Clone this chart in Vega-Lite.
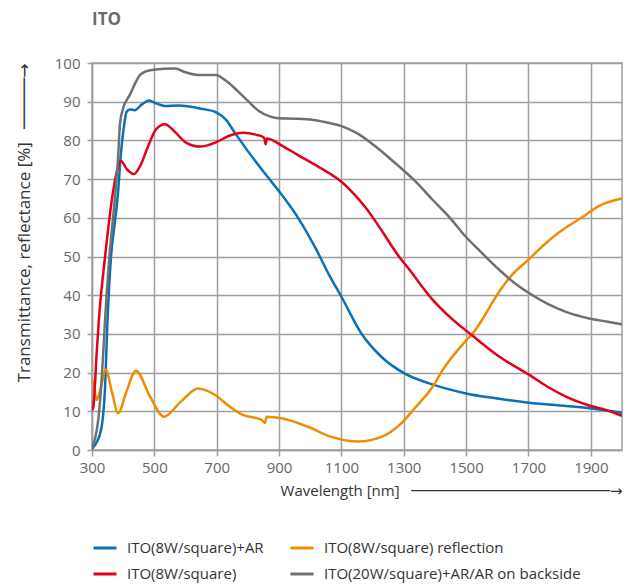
{
  "$schema": "https://vega.github.io/schema/vega-lite/v6.json",
  "autosize": {"type": "none"},
  "width": 530,
  "height": 387,
  "padding": {"left": 92, "top": 63, "right": 7, "bottom": 135},
  "background": "white",
  "title": {"text": "ITO", "anchor": "start", "frame": "group", "fontSize": 17, "fontWeight": "bold", "color": "#6b6b6b", "font": "Open Sans", "offset": 27},
  "config": {
    "font": "Open Sans, DejaVu Sans",
    "view": {"stroke": "#9f9f9f", "strokeWidth": 1.5},
    "axis": {"gridColor": "#9f9f9f", "gridWidth": 1.5, "gridOpacity": 1, "domainColor": "#9f9f9f", "domainWidth": 1.5, "tickColor": "#9f9f9f", "tickWidth": 1.5, "labelFontSize": 15, "labelColor": "#666666", "labelFont": "Open Sans", "labelFlush": false, "titleFontSize": 15, "titleFontWeight": "normal", "titleColor": "#333333", "titleFont": "Open Sans, DejaVu Sans"},
    "legend": {"labelFontSize": 15, "labelColor": "#333333", "labelFont": "Open Sans", "labelLimit": 0, "symbolType": "stroke", "symbolSize": 529, "symbolStrokeWidth": 3, "labelOffset": 9, "columnPadding": 20, "rowPadding": 5}
  },
  "data": {"values": [
    {"s":"ITO(8W/square)+AR","wl":300,"v":0.3},{"s":"ITO(8W/square)+AR","wl":315,"v":2},{"s":"ITO(8W/square)+AR","wl":331,"v":6},{"s":"ITO(8W/square)+AR","wl":342,"v":16.4},{"s":"ITO(8W/square)+AR","wl":349,"v":32},{"s":"ITO(8W/square)+AR","wl":361,"v":50},{"s":"ITO(8W/square)+AR","wl":372,"v":58},{"s":"ITO(8W/square)+AR","wl":384,"v":67},{"s":"ITO(8W/square)+AR","wl":392,"v":76},{"s":"ITO(8W/square)+AR","wl":400,"v":82},{"s":"ITO(8W/square)+AR","wl":411,"v":87.4},{"s":"ITO(8W/square)+AR","wl":421,"v":88},{"s":"ITO(8W/square)+AR","wl":437,"v":87.8},{"s":"ITO(8W/square)+AR","wl":460,"v":89.3},{"s":"ITO(8W/square)+AR","wl":483,"v":90.3},{"s":"ITO(8W/square)+AR","wl":505,"v":89.6},{"s":"ITO(8W/square)+AR","wl":534,"v":88.9},{"s":"ITO(8W/square)+AR","wl":576,"v":89},{"s":"ITO(8W/square)+AR","wl":650,"v":88.2},{"s":"ITO(8W/square)+AR","wl":700,"v":87.2},{"s":"ITO(8W/square)+AR","wl":730,"v":85.3},{"s":"ITO(8W/square)+AR","wl":758,"v":82},{"s":"ITO(8W/square)+AR","wl":801,"v":77.1},{"s":"ITO(8W/square)+AR","wl":865,"v":70.4},{"s":"ITO(8W/square)+AR","wl":908,"v":66},{"s":"ITO(8W/square)+AR","wl":961,"v":60},{"s":"ITO(8W/square)+AR","wl":1020,"v":51.7},{"s":"ITO(8W/square)+AR","wl":1060,"v":45.3},{"s":"ITO(8W/square)+AR","wl":1100,"v":39.6},{"s":"ITO(8W/square)+AR","wl":1164,"v":30.1},{"s":"ITO(8W/square)+AR","wl":1228,"v":24.1},{"s":"ITO(8W/square)+AR","wl":1302,"v":19.8},{"s":"ITO(8W/square)+AR","wl":1382,"v":17.2},{"s":"ITO(8W/square)+AR","wl":1440,"v":15.8},{"s":"ITO(8W/square)+AR","wl":1500,"v":14.6},{"s":"ITO(8W/square)+AR","wl":1600,"v":13.3},{"s":"ITO(8W/square)+AR","wl":1702,"v":12.2},{"s":"ITO(8W/square)+AR","wl":1800,"v":11.5},{"s":"ITO(8W/square)+AR","wl":1895,"v":10.8},{"s":"ITO(8W/square)+AR","wl":2000,"v":9.6},
    {"s":"ITO(8W/square) reflection","wl":300,"v":18},{"s":"ITO(8W/square) reflection","wl":304,"v":17.4},{"s":"ITO(8W/square) reflection","wl":315,"v":12.9},{"s":"ITO(8W/square) reflection","wl":328,"v":16},{"s":"ITO(8W/square) reflection","wl":344,"v":20.8},{"s":"ITO(8W/square) reflection","wl":364,"v":15},{"s":"ITO(8W/square) reflection","wl":384,"v":9.5},{"s":"ITO(8W/square) reflection","wl":410,"v":15},{"s":"ITO(8W/square) reflection","wl":441,"v":20.5},{"s":"ITO(8W/square) reflection","wl":485,"v":14},{"s":"ITO(8W/square) reflection","wl":531,"v":8.6},{"s":"ITO(8W/square) reflection","wl":585,"v":12.5},{"s":"ITO(8W/square) reflection","wl":640,"v":15.9},{"s":"ITO(8W/square) reflection","wl":695,"v":14.2},{"s":"ITO(8W/square) reflection","wl":740,"v":11.3},{"s":"ITO(8W/square) reflection","wl":780,"v":9.2},{"s":"ITO(8W/square) reflection","wl":844,"v":7.8},{"s":"ITO(8W/square) reflection","wl":855,"v":7},{"s":"ITO(8W/square) reflection","wl":860,"v":8.6},{"s":"ITO(8W/square) reflection","wl":908,"v":8.2},{"s":"ITO(8W/square) reflection","wl":993,"v":6},{"s":"ITO(8W/square) reflection","wl":1068,"v":3.4},{"s":"ITO(8W/square) reflection","wl":1153,"v":2.2},{"s":"ITO(8W/square) reflection","wl":1228,"v":3.4},{"s":"ITO(8W/square) reflection","wl":1292,"v":6.9},{"s":"ITO(8W/square) reflection","wl":1335,"v":10.8},{"s":"ITO(8W/square) reflection","wl":1393,"v":16.4},{"s":"ITO(8W/square) reflection","wl":1425,"v":20.7},{"s":"ITO(8W/square) reflection","wl":1499,"v":28.2},{"s":"ITO(8W/square) reflection","wl":1521,"v":30.1},{"s":"ITO(8W/square) reflection","wl":1607,"v":41},{"s":"ITO(8W/square) reflection","wl":1639,"v":44.5},{"s":"ITO(8W/square) reflection","wl":1700,"v":49.2},{"s":"ITO(8W/square) reflection","wl":1735,"v":51.9},{"s":"ITO(8W/square) reflection","wl":1788,"v":55.6},{"s":"ITO(8W/square) reflection","wl":1873,"v":60.2},{"s":"ITO(8W/square) reflection","wl":1927,"v":63.1},{"s":"ITO(8W/square) reflection","wl":2000,"v":65},
    {"s":"ITO(8W/square)","wl":300,"v":10.3},{"s":"ITO(8W/square)","wl":304,"v":11},{"s":"ITO(8W/square)","wl":315,"v":25},{"s":"ITO(8W/square)","wl":322,"v":33.6},{"s":"ITO(8W/square)","wl":342,"v":50},{"s":"ITO(8W/square)","wl":368,"v":67},{"s":"ITO(8W/square)","wl":380,"v":72},{"s":"ITO(8W/square)","wl":393,"v":74.7},{"s":"ITO(8W/square)","wl":412,"v":72.5},{"s":"ITO(8W/square)","wl":435,"v":71.3},{"s":"ITO(8W/square)","wl":455,"v":73.5},{"s":"ITO(8W/square)","wl":480,"v":78.5},{"s":"ITO(8W/square)","wl":505,"v":82.8},{"s":"ITO(8W/square)","wl":534,"v":84.2},{"s":"ITO(8W/square)","wl":565,"v":82.3},{"s":"ITO(8W/square)","wl":600,"v":79.5},{"s":"ITO(8W/square)","wl":646,"v":78.4},{"s":"ITO(8W/square)","wl":700,"v":79.6},{"s":"ITO(8W/square)","wl":740,"v":81.2},{"s":"ITO(8W/square)","wl":785,"v":82},{"s":"ITO(8W/square)","wl":825,"v":81.5},{"s":"ITO(8W/square)","wl":852,"v":80.7},{"s":"ITO(8W/square)","wl":857,"v":79},{"s":"ITO(8W/square)","wl":861,"v":80.5},{"s":"ITO(8W/square)","wl":910,"v":78.6},{"s":"ITO(8W/square)","wl":961,"v":76.2},{"s":"ITO(8W/square)","wl":1030,"v":73},{"s":"ITO(8W/square)","wl":1100,"v":69.3},{"s":"ITO(8W/square)","wl":1140,"v":66.2},{"s":"ITO(8W/square)","wl":1180,"v":62.4},{"s":"ITO(8W/square)","wl":1230,"v":56.6},{"s":"ITO(8W/square)","wl":1281,"v":50.4},{"s":"ITO(8W/square)","wl":1319,"v":46.5},{"s":"ITO(8W/square)","wl":1393,"v":38.8},{"s":"ITO(8W/square)","wl":1450,"v":34.2},{"s":"ITO(8W/square)","wl":1521,"v":29.5},{"s":"ITO(8W/square)","wl":1607,"v":24.1},{"s":"ITO(8W/square)","wl":1703,"v":19.4},{"s":"ITO(8W/square)","wl":1760,"v":16.4},{"s":"ITO(8W/square)","wl":1820,"v":13.8},{"s":"ITO(8W/square)","wl":1895,"v":11.5},{"s":"ITO(8W/square)","wl":1950,"v":10.3},{"s":"ITO(8W/square)","wl":2000,"v":8.8},
    {"s":"ITO(20W/square)+AR/AR on backside","wl":300,"v":0.5},{"s":"ITO(20W/square)+AR/AR on backside","wl":310,"v":3},{"s":"ITO(20W/square)+AR/AR on backside","wl":320,"v":7.8},{"s":"ITO(20W/square)+AR/AR on backside","wl":336,"v":25},{"s":"ITO(20W/square)+AR/AR on backside","wl":340,"v":31},{"s":"ITO(20W/square)+AR/AR on backside","wl":356,"v":50},{"s":"ITO(20W/square)+AR/AR on backside","wl":375,"v":66.5},{"s":"ITO(20W/square)+AR/AR on backside","wl":384,"v":76},{"s":"ITO(20W/square)+AR/AR on backside","wl":390,"v":84.5},{"s":"ITO(20W/square)+AR/AR on backside","wl":400,"v":88.3},{"s":"ITO(20W/square)+AR/AR on backside","wl":421,"v":91.7},{"s":"ITO(20W/square)+AR/AR on backside","wl":440,"v":95},{"s":"ITO(20W/square)+AR/AR on backside","wl":454,"v":96.9},{"s":"ITO(20W/square)+AR/AR on backside","wl":475,"v":97.9},{"s":"ITO(20W/square)+AR/AR on backside","wl":491,"v":98.2},{"s":"ITO(20W/square)+AR/AR on backside","wl":530,"v":98.5},{"s":"ITO(20W/square)+AR/AR on backside","wl":566,"v":98.6},{"s":"ITO(20W/square)+AR/AR on backside","wl":600,"v":97.6},{"s":"ITO(20W/square)+AR/AR on backside","wl":640,"v":96.9},{"s":"ITO(20W/square)+AR/AR on backside","wl":697,"v":96.9},{"s":"ITO(20W/square)+AR/AR on backside","wl":730,"v":95.4},{"s":"ITO(20W/square)+AR/AR on backside","wl":764,"v":93},{"s":"ITO(20W/square)+AR/AR on backside","wl":800,"v":90.2},{"s":"ITO(20W/square)+AR/AR on backside","wl":835,"v":87.6},{"s":"ITO(20W/square)+AR/AR on backside","wl":870,"v":86.2},{"s":"ITO(20W/square)+AR/AR on backside","wl":900,"v":85.7},{"s":"ITO(20W/square)+AR/AR on backside","wl":950,"v":85.6},{"s":"ITO(20W/square)+AR/AR on backside","wl":1010,"v":85.3},{"s":"ITO(20W/square)+AR/AR on backside","wl":1050,"v":84.7},{"s":"ITO(20W/square)+AR/AR on backside","wl":1100,"v":83.7},{"s":"ITO(20W/square)+AR/AR on backside","wl":1150,"v":81.9},{"s":"ITO(20W/square)+AR/AR on backside","wl":1207,"v":78.6},{"s":"ITO(20W/square)+AR/AR on backside","wl":1260,"v":75},{"s":"ITO(20W/square)+AR/AR on backside","wl":1300,"v":72.2},{"s":"ITO(20W/square)+AR/AR on backside","wl":1335,"v":69.6},{"s":"ITO(20W/square)+AR/AR on backside","wl":1393,"v":64.6},{"s":"ITO(20W/square)+AR/AR on backside","wl":1450,"v":59.8},{"s":"ITO(20W/square)+AR/AR on backside","wl":1499,"v":55.1},{"s":"ITO(20W/square)+AR/AR on backside","wl":1543,"v":51.5},{"s":"ITO(20W/square)+AR/AR on backside","wl":1607,"v":46.5},{"s":"ITO(20W/square)+AR/AR on backside","wl":1650,"v":43.5},{"s":"ITO(20W/square)+AR/AR on backside","wl":1703,"v":40.5},{"s":"ITO(20W/square)+AR/AR on backside","wl":1760,"v":37.8},{"s":"ITO(20W/square)+AR/AR on backside","wl":1820,"v":35.7},{"s":"ITO(20W/square)+AR/AR on backside","wl":1895,"v":34},{"s":"ITO(20W/square)+AR/AR on backside","wl":1950,"v":33.2},{"s":"ITO(20W/square)+AR/AR on backside","wl":2000,"v":32.5}
  ]},
  "mark": {"type": "line", "strokeWidth": 2.5, "interpolate": "monotone", "clip": true},
  "encoding": {
    "x": {"field": "wl", "type": "quantitative", "scale": {"domain": [300, 2000], "nice": false, "zero": false},
      "axis": {"values": [300, 500, 700, 900, 1100, 1300, 1500, 1700, 1900], "format": "d", "tickSize": 6, "labelPadding": 4, "title": "Wavelength [nm]\u00a0\u00a0\u00a0──────────────────────→", "titleAnchor": "end", "titlePadding": 8}},
    "y": {"field": "v", "type": "quantitative", "scale": {"domain": [0, 100], "nice": false},
      "axis": {"values": [0, 10, 20, 30, 40, 50, 60, 70, 80, 90, 100], "format": "d", "tickSize": 5, "labelPadding": 7, "title": "Transmittance, reflectance [%]\u00a0\u00a0\u00a0─────→", "titleAnchor": "end", "titleFontSize": 17, "titlePadding": 21}},
    "color": {"field": "s", "type": "nominal",
      "scale": {"domain": ["ITO(8W/square)+AR", "ITO(8W/square) reflection", "ITO(8W/square)", "ITO(20W/square)+AR/AR on backside"], "range": ["#0a70b8", "#f08c00", "#e3001b", "#707070"]},
      "legend": {"title": null, "orient": "none", "legendX": 0, "legendY": 472, "columns": 2, "direction": "horizontal"}},
    "order": {"field": "wl", "type": "quantitative"}
  }
}
